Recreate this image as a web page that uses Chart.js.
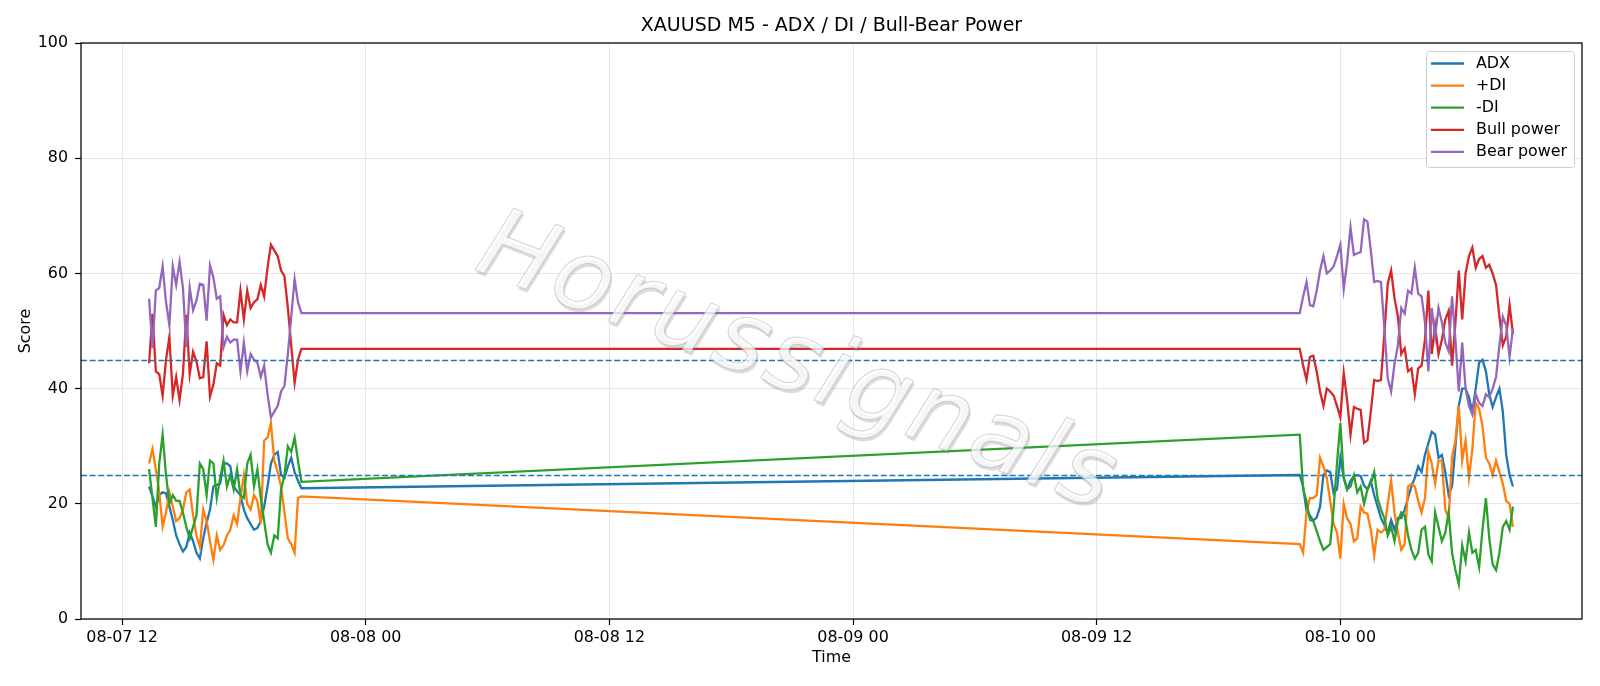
<!DOCTYPE html>
<html>
<head>
<meta charset="utf-8">
<title>XAUUSD M5 - ADX / DI / Bull-Bear Power</title>
<script src="https://cdn.jsdelivr.net/npm/chart.js@4.4.1/dist/chart.umd.min.js"></script>
<style>
  html, body { margin: 0; padding: 0; background: #fff; }
</style>
</head>
<body>
<canvas id="chart" width="1600" height="686"></canvas>
<script>
// x values are hours since 08-07 00:00, one reading every 10 minutes
const stepHours = 10 / 60;
const sessionStarts = [13 + 20 / 60, 70]; // 08-07 13:20 and 08-09 22:00

// session 1 (08-07 afternoon)
const adx1 = [23, 21.3, 19.5, 21.5, 22, 21.8, 19.5, 17.2, 14.5, 13, 11.7, 12.5, 15, 13.5, 11.5, 10.5, 14, 16.7, 19, 23, 23.3, 23.5, 27, 27, 26.5, 23, 22.2, 21.5, 19, 17.5, 16.5, 15.5, 15.8, 17, 19.5, 23, 27, 28.5, 29, 25, 24.5, 26.5, 28, 25.5, 24, 22.7];
const plusDi1 = [27, 29.5, 26, 22, 16, 18.5, 22, 19.5, 17, 17.5, 19, 22, 22.5, 18, 14.5, 12.5, 19, 17, 13.5, 10.3, 14.5, 12, 12.8, 14.5, 15.5, 18, 16.5, 21, 25, 20, 19, 21.5, 20.5, 16.5, 31, 31.5, 34, 27.5, 25.5, 23, 18.5, 14, 13, 11.5, 21, 21.3];
const minusDi1 = [26, 21, 16, 27, 32, 25, 20, 21.5, 20.5, 20.5, 18.5, 16, 14, 16, 18, 27, 26, 21.5, 27.5, 27, 21, 24.5, 27.5, 23, 25, 22.5, 26, 21.5, 21, 27, 28.5, 23, 26, 21, 17, 13, 11.5, 14.5, 14, 22.5, 25, 30, 29, 31.5, 27.5, 23.8];
const bull1 = [44.4, 53, 43, 42.5, 38.8, 45, 49, 38.8, 42, 38, 42.5, 52.8, 42.5, 46.4, 44.7, 41.8, 42, 48.2, 38.6, 40.7, 44.4, 44, 52.8, 51, 52, 51.5, 51.5, 57, 52, 57, 54, 55, 55.5, 58, 56, 61, 65, 64, 63, 60.5, 59.5, 54, 47.5, 41, 45, 46.9];
const bear1 = [55.6, 47, 57, 57.5, 61.2, 55, 51, 61.2, 58, 62, 57.5, 47.2, 57.5, 53.6, 55.3, 58.2, 58, 51.8, 61.4, 59.3, 55.6, 56, 47.2, 49, 48, 48.5, 48.5, 43, 48, 43, 46, 45, 44.5, 42, 44, 39, 35, 36, 37, 39.5, 40.5, 46, 52.5, 59, 55, 53.1];

// session 2 (08-09 night to 08-10 morning)
const adx2 = [25, 23, 18.8, 18, 17.1, 17.6, 19.5, 25, 25.8, 25.5, 21.8, 22.5, 28, 24.5, 22.5, 24, 24.8, 25, 24.8, 23.2, 22.5, 24, 21.5, 19.5, 17.5, 16.3, 15, 17.2, 15.5, 17.5, 17.5, 19, 21, 23, 24.5, 26.5, 25.5, 28.5, 30.5, 32.5, 32, 28, 28.5, 25.5, 21.5, 23, 30, 37, 40, 40, 38.5, 36, 40, 44.5, 45, 43, 39, 36.8, 38.5, 40, 36, 28.5, 25, 23];
const plusDi2 = [13, 11.5, 18.5, 21, 21, 21.5, 28, 26.5, 24.5, 20.5, 16.5, 15, 10.5, 20, 17.5, 16.5, 13.5, 14, 19.5, 18.5, 18.3, 15.5, 11, 15.5, 15, 15.5, 20, 24, 18.5, 15, 12, 13, 23, 23.5, 23, 20.5, 18.5, 21, 29, 27, 23.5, 27.5, 27.5, 19, 17.5, 28, 31, 37, 27.5, 31, 24.5, 29.5, 37.5, 36.5, 33.5, 28, 27, 25, 27.5, 25.5, 23.5, 20.5, 20, 16];
const minusDi2 = [32, 22.5, 20.5, 17.2, 17, 15.3, 13.5, 12, 12.5, 13, 19.2, 27, 34, 24.5, 22.5, 23, 25, 22, 23, 20, 22.5, 23.5, 25.5, 21, 19, 17.5, 14.5, 16, 13.5, 17, 18.5, 18, 14.5, 12, 10.5, 11.5, 15.5, 16, 11.2, 10, 18.5, 16, 13.5, 15, 18.5, 11.5, 8.5, 6, 12.8, 10, 15, 11.5, 12, 9, 15.5, 21, 14, 9.5, 8.5, 11.5, 16, 17, 15.5, 19.5];
const bull2 = [46.9, 44, 41.5, 45.5, 45.7, 43, 39.5, 37, 40, 39.5, 38.8, 37, 35, 42.7, 38, 32, 36.8, 36.5, 36.3, 30.6, 31, 36, 41.5, 41.3, 41.5, 49.5, 58.2, 60.5, 55.7, 52.5, 46, 47, 43, 43.5, 39, 43.5, 44, 48.5, 57, 46, 51, 46, 48.5, 52, 53.5, 44, 51.5, 60.5, 52, 60, 63, 64.5, 61, 62.5, 63, 61, 61.5, 60, 58, 52.5, 47.5, 49, 54.5, 49.5];
const bear2 = [53.1, 56, 58.5, 54.5, 54.3, 57, 60.5, 63, 60, 60.5, 61.2, 63, 65, 57.3, 62, 68, 63.2, 63.5, 63.7, 69.4, 69, 64, 58.5, 58.7, 58.5, 50.5, 41.8, 39.5, 44.3, 47.5, 54, 53, 57, 56.5, 61, 56.5, 56, 51.5, 43, 54, 49, 54, 51.5, 48, 46.5, 56, 48.5, 39.5, 48, 40, 37, 35.5, 39, 37.5, 37, 39, 38.5, 40, 42, 47.5, 52.5, 51, 45.5, 50.5];

const seriesLabels = ['ADX', '+DI', '-DI', 'Bull power', 'Bear power'];
const seriesColors = ['#1f77b4', '#ff7f0e', '#2ca02c', '#d62728', '#9467bd'];
const seriesParts = [[adx1, adx2], [plusDi1, plusDi2], [minusDi1, minusDi2], [bull1, bull2], [bear1, bear2]];

const xTickValues = [12, 24, 36, 48, 60, 72];
const xTickLabels = ['08-07 12', '08-08 00', '08-08 12', '08-09 00', '08-09 12', '08-10 00'];
const yTickValues = [0, 20, 40, 60, 80, 100];
const levelLines = [45, 25];
const xMin = 9.98, xMax = 83.9;

const FONT = '"DejaVu Sans", sans-serif';

// turn the two sessions into {x, y} points on one line
function toPoints(parts) {
    const pts = [];
    parts.forEach((vals, s) => {
        vals.forEach((v, i) => pts.push({ x: sessionStarts[s] + i * stepHours, y: v }));
    });
    return pts;
}

// extra drawing: title, axis names, frame, level lines, watermark, legend
const decorPlugin = {
    id: 'decor',
    afterDatasetsDraw(chart) {
        const ctx = chart.ctx;
        const area = chart.chartArea;
        const y = chart.scales.y;

        // dashed level lines
        ctx.save();
        ctx.strokeStyle = '#1f77b4';
        ctx.lineWidth = 1.5;
        ctx.setLineDash([6, 2.6]);
        levelLines.forEach(v => {
            const py = Math.round(y.getPixelForValue(v)) + 0.5;
            ctx.beginPath();
            ctx.moveTo(area.left, py);
            ctx.lineTo(area.right, py);
            ctx.stroke();
        });
        ctx.restore();

        drawWatermark(ctx, area);
    },
    afterDraw(chart) {
        const ctx = chart.ctx;
        const area = chart.chartArea;
        const midX = (area.left + area.right) / 2;

        ctx.save();
        // frame
        ctx.strokeStyle = '#000';
        ctx.lineWidth = 1.25;
        ctx.strokeRect(area.left, area.top, area.right - area.left, area.bottom - area.top);

        // title + axis labels
        ctx.fillStyle = '#000';
        ctx.textAlign = 'center';
        ctx.textBaseline = 'middle';
        ctx.font = '19px ' + FONT;
        ctx.fillText('XAUUSD M5 - ADX / DI / Bull-Bear Power', midX, 26);
        ctx.font = '15.9px ' + FONT;
        ctx.fillText('Time', midX, 658);
        ctx.translate(26, (area.top + area.bottom) / 2);
        ctx.rotate(-Math.PI / 2);
        ctx.fillText('Score', 0, 0);
        ctx.restore();

        drawLegend(ctx, area);
    }
};

function drawWatermark(ctx, area) {
    const text = 'Horussignals';
    const cx = area.left + 0.476 * (area.right - area.left);
    const cy = area.top + 0.56 * (area.bottom - area.top);
    ctx.save();
    ctx.translate(cx, cy);
    ctx.rotate(21 * Math.PI / 180); // reads downhill, left to right
    ctx.font = 'italic 98px ' + FONT;
    ctx.textBaseline = 'middle';
    const gap = 4;
    const widths = [...text].map(c => ctx.measureText(c).width);
    const total = widths.reduce((a, b) => a + b, 0) + gap * (text.length - 1);

    const pass = (dx, dy, fn) => {
        let x = -total / 2;
        [...text].forEach((c, i) => {
            fn(c, x + dx, dy);
            x += widths[i] + gap;
        });
    };
    // faint grey shadow, then a whitish face with thin grey edge
    ctx.fillStyle = 'rgba(120,120,120,0.26)';
    pass(2.5, 2.5, (c, x, yy) => ctx.fillText(c, x, yy));
    ctx.fillStyle = 'rgba(255,255,255,0.75)';
    pass(0, 0, (c, x, yy) => ctx.fillText(c, x, yy));
    ctx.strokeStyle = 'rgba(170,170,170,0.5)';
    ctx.lineWidth = 1;
    pass(0, 0, (c, x, yy) => ctx.strokeText(c, x, yy));
    ctx.restore();
}

function drawLegend(ctx, area) {
    const rowH = 22.1;
    const w = 148, h = 116;
    const right = area.right - 8, top = area.top + 8;
    const left = right - w;
    ctx.save();
    ctx.beginPath();
    ctx.roundRect(left + 0.5, top + 0.5, w, h, 3);
    ctx.fillStyle = 'rgba(255,255,255,0.8)';
    ctx.fill();
    ctx.strokeStyle = '#cccccc';
    ctx.lineWidth = 1;
    ctx.stroke();

    ctx.font = '15.9px ' + FONT;
    ctx.textAlign = 'left';
    ctx.textBaseline = 'middle';
    seriesLabels.forEach((label, i) => {
        const ry = top + 12.5 + rowH * i;
        ctx.strokeStyle = seriesColors[i];
        ctx.lineWidth = 2.3;
        ctx.beginPath();
        ctx.moveTo(left + 5, ry);
        ctx.lineTo(left + 38, ry);
        ctx.stroke();
        ctx.fillStyle = '#000';
        ctx.fillText(label, left + 50, ry);
    });
    ctx.restore();
}

const gridOpts = {
    color: 'rgba(176,176,176,0.3)',
    lineWidth: 1,
    drawTicks: true,
    tickLength: 6,
    tickColor: '#000',
    tickWidth: 1.2
};

new Chart(document.getElementById('chart').getContext('2d'), {
    type: 'line',
    data: {
        datasets: seriesLabels.map((label, i) => ({
            label,
            data: toPoints(seriesParts[i]),
            borderColor: seriesColors[i],
            backgroundColor: seriesColors[i],
            borderWidth: 2.3,
            pointRadius: 0,
            tension: 0,
            fill: false,
            order: seriesLabels.length - i // later series on top, like the original
        }))
    },
    options: {
        responsive: false,
        animation: false,
        devicePixelRatio: 1,
        layout: { padding: { left: 0, right: 18, top: 43, bottom: 0 } },
        plugins: {
            legend: { display: false },
            title: { display: false },
            tooltip: { enabled: false }
        },
        scales: {
            x: {
                type: 'linear',
                min: xMin,
                max: xMax,
                afterFit: s => { s.height = 67; },
                afterBuildTicks: s => { s.ticks = xTickValues.map(v => ({ value: v })); },
                ticks: {
                    autoSkip: false,
                    maxRotation: 0,
                    padding: 3,
                    color: '#000',
                    font: { family: FONT, size: 15.9 },
                    callback: (v, i) => xTickLabels[i]
                },
                grid: gridOpts,
                border: { display: false }
            },
            y: {
                min: 0,
                max: 100,
                afterFit: s => { s.width = 81; },
                afterBuildTicks: s => { s.ticks = yTickValues.map(v => ({ value: v })); },
                ticks: {
                    padding: 7,
                    color: '#000',
                    font: { family: FONT, size: 15.9 }
                },
                grid: gridOpts,
                border: { display: false }
            }
        }
    },
    plugins: [decorPlugin]
});
</script>
</body>
</html>
